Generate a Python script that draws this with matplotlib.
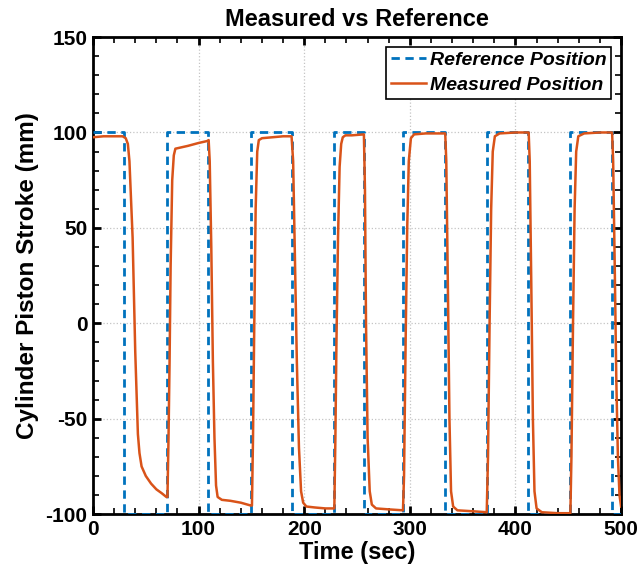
import matplotlib
matplotlib.use("Agg")
import matplotlib.pyplot as plt
from matplotlib.ticker import MultipleLocator

plt.rcParams['font.family'] = ['Liberation Sans', 'DejaVu Sans']
plt.rcParams['font.weight'] = 'bold'
plt.rcParams['axes.unicode_minus'] = False

# Reference square wave: switching times (sec) and levels (mm)
ref_time = [0, 29.6, 69.8, 109.2, 149.6, 188.1, 228.2, 256.6, 293.3, 333.3,
            372.8, 412.2, 451.7, 491.2, 500]
ref_pos = [100, -100, 100, -100, 100, -100, 100, -100, 100, -100,
           100, -100, 100, -100, -100]

# Measured position
meas_time = [0, 10, 20, 28, 31, 33, 34.5, 37.5, 40, 42.5, 44, 46, 50, 55, 60, 65, 69.5,
             70.5, 71.5, 72.5, 73.5, 75, 76.5, 78, 90, 100, 108, 109.5,
             110.5, 112, 113.5, 115, 116.5, 118, 122, 130, 140, 149.5,
             150.5, 151.5, 152.5, 154, 155.5, 157, 160, 170, 180, 188,
             189.5, 191, 193, 195, 197, 199, 202, 210, 220, 228.5,
             229.5, 230.5, 232, 233.5, 235, 236.5, 239, 245, 256.5,
             257.5, 258.5, 260, 262, 264, 268, 280, 293.5,
             294.5, 296, 297.5, 299, 301, 304, 315, 333.5,
             334.5, 336, 337.5, 339, 341, 345, 360, 372.8,
             374, 375.5, 377, 378.5, 380.5, 385, 400, 412.5,
             413.5, 415, 416.5, 418, 420, 425, 440, 452,
             453, 454.5, 456, 457.5, 459.5, 465, 480, 491.5,
             492.5, 494, 495.5, 497, 498.5, 500]
meas_pos = [97.5, 98, 98, 98, 97, 94, 85, 45, -15, -58, -68, -75, -80, -84, -87, -89, -91,
            -91, -60, -20, 30, 75, 88, 91.5, 93, 94.5, 95.5, 96,
            85, 40, -20, -60, -85, -91, -92.5, -93, -94, -95.5,
            -95.5, -60, -10, 60, 90, 96, 97, 97.5, 98, 98,
            85, 40, -20, -65, -88, -94, -96, -96.5, -97, -97,
            -60, -10, 45, 82, 94, 97.5, 98.5, 98.5, 99,
            70, 0, -60, -88, -95, -97, -97.5, -98,
            -80, -10, 50, 85, 97, 99, 99.5, 99.5,
            85, 20, -50, -88, -96, -98, -98.5, -99,
            -70, 0, 60, 90, 98, 99.5, 100, 100,
            85, 20, -50, -88, -97, -99, -99.5, -99.5,
            -70, 0, 60, 90, 98, 99.5, 100, 100,
            85, 30, -30, -70, -90, -96]

fig = plt.figure(figsize=(6.37, 5.79), dpi=100)
ax = fig.add_axes([0.146, 0.112, 0.829, 0.824])

ax.plot(ref_time, ref_pos, drawstyle='steps-post', color='#0072BD', lw=2.0,
        linestyle=(0, (3, 2)), label='Reference Position', zorder=3)
ax.plot(meas_time, meas_pos, color='#D95319', lw=1.8, label='Measured Position', zorder=4)

ax.set_xlim(0, 500)
ax.set_ylim(-100, 150)
ax.xaxis.set_major_locator(MultipleLocator(100))
ax.xaxis.set_minor_locator(MultipleLocator(20))
ax.yaxis.set_major_locator(MultipleLocator(50))
ax.yaxis.set_minor_locator(MultipleLocator(10))
ax.tick_params(which='both', direction='in', top=True, right=True)
ax.tick_params(which='major', length=6, width=2, labelsize=15, pad=4)
ax.tick_params(which='minor', length=4, width=1.2)
for s in ax.spines.values():
    s.set_linewidth(2)
ax.grid(True, which='major', color='#c4c4c4', linestyle=':', lw=0.9, zorder=0)

ax.set_title('Measured vs Reference', fontsize=17, fontweight='bold', pad=8)
ax.set_xlabel('Time (sec)', fontsize=17, fontweight='bold', labelpad=2)
ax.set_ylabel('Cylinder Piston Stroke (mm)', fontsize=17.5, fontweight='bold', labelpad=5)

leg = ax.legend(loc='upper right', frameon=True, fancybox=False,
                framealpha=1, edgecolor='black', borderaxespad=0.5,
                handlelength=1.8, handletextpad=0.2, borderpad=0.25, labelspacing=0.35,
                prop={'weight': 'bold', 'style': 'italic', 'size': 14})
leg.get_frame().set_linewidth(1.2)

fig.savefig('out.png', dpi=100)
